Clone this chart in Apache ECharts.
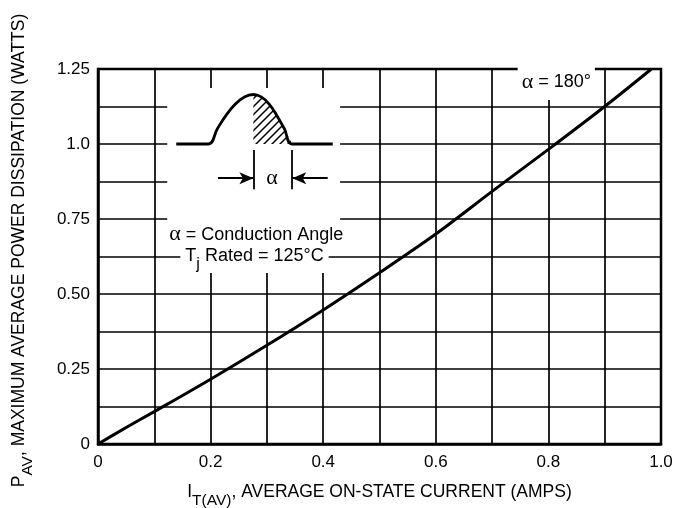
<!DOCTYPE html>
<html><head><meta charset="utf-8">
<script src="https://cdn.jsdelivr.net/npm/echarts@6.0.0/dist/echarts.min.js"></script>
<style>html,body{margin:0;padding:0;background:#fff}#c{width:684px;height:508px}</style>
</head><body><div id="c"></div>
<script>
// Main curve: alpha = 180 deg
const curveX = [0, 0.05, 0.1, 0.2, 0.3, 0.4, 0.5, 0.6, 0.7, 0.8, 0.9, 0.983];
const curveY = [0, 0.055, 0.108, 0.216, 0.329, 0.447, 0.571, 0.700, 0.842, 0.982, 1.125, 1.25];
// tick labels
const xTickLabels = ['0', '0.2', '0.4', '0.6', '0.8', '1.0'];
const yTickLabels = ['0', '0.25', '0.50', '0.75', '1.0', '1.25'];
// inset waveform (data units)
const waveX = [0.139, 0.196, 0.212, 0.228, 0.244, 0.260, 0.276, 0.290, 0.304, 0.317, 0.331, 0.345, 0.417];
const waveY = [1.0, 1.0, 1.051, 1.097, 1.133, 1.157, 1.165, 1.157, 1.133, 1.097, 1.051, 1.0, 1.0];
const hatchX = [0.276, 0.276, 0.290, 0.304, 0.317, 0.331, 0.345];
const hatchY = [1.0, 1.165, 1.157, 1.133, 1.097, 1.051, 1.0];
const maskX = [0.123, 0.430];
const maskY = [0.657, 1.187];
const dimLineX = [0.276, 0.345];
const dimLineY = [0.849, 0.980];
const arrowY = 0.886;
const arrowLeft = [0.213, 0.276];
const arrowRight = [0.408, 0.345];

const SANS = "'Liberation Sans', Arial, sans-serif";
const SERIF = "'Liberation Serif', 'DejaVu Serif', serif";

function pattern() {
  const n = 8;
  const c = document.createElement('canvas');
  c.width = n; c.height = n;
  const g = c.getContext('2d');
  g.fillStyle = '#fff'; g.fillRect(0, 0, n, n);
  g.strokeStyle = '#000'; g.lineWidth = 1.5;
  g.beginPath();
  g.moveTo(-1, n + 1); g.lineTo(n + 1, -1);
  g.moveTo(-n / 2 - 1, n / 2 + 1); g.lineTo(n / 2 + 1, -n / 2 - 1);
  g.moveTo(n / 2 - 1, 1.5 * n + 1); g.lineTo(1.5 * n + 1, n / 2 - 1);
  g.stroke();
  return c;
}

const zip = (a, b) => a.map((v, i) => [v, b[i]]);
const subRich = (main, sub) => ({
  m: {fontFamily: SANS, fontSize: main, color: '#000', lineHeight: 20, verticalAlign: 'top'},
  s: {fontFamily: SANS, fontSize: sub, color: '#000', lineHeight: 26, verticalAlign: 'bottom'}
});

const chart = echarts.init(document.getElementById('c'), null, {renderer: 'canvas'});
chart.setOption({
  animation: false,
  backgroundColor: '#fff',
  grid: {left: 98, right: 23, top: 69, bottom: 64, show: true, borderColor: '#000', borderWidth: 2.5, outerBoundsMode: 'none'},
  xAxis: {
    type: 'value', min: 0, max: 1.0, interval: 0.1,
    axisLine: {show: true, onZero: false, lineStyle: {color: '#000', width: 2.5}},
    axisTick: {show: false},
    splitLine: {show: true, lineStyle: {color: '#000', width: 1.7}},
    axisLabel: {
      color: '#000', fontFamily: SANS, fontSize: 17, margin: 10,
      formatter: v => { const k = Math.round(v * 10); return k % 2 ? '' : xTickLabels[k / 2]; }
    },
    name: '{m|I}{s|T(AV)}{m|, AVERAGE ON-STATE CURRENT (AMPS)}',
    nameLocation: 'middle', nameGap: 39,
    nameTextStyle: {color: '#000', fontFamily: SANS, fontSize: 17.5, rich: subRich(17.5, 15.5)}
  },
  yAxis: {
    type: 'value', min: 0, max: 1.25, interval: 0.125,
    axisLine: {show: true, lineStyle: {color: '#000', width: 2.5}},
    axisTick: {show: false},
    splitLine: {show: true, lineStyle: {color: '#000', width: 1.7}},
    axisLabel: {
      color: '#000', fontFamily: SANS, fontSize: 17, margin: 8,
      formatter: v => { const k = Math.round(v / 0.125); return k % 2 ? '' : yTickLabels[k / 2]; }
    },
    name: '{m|P}{s|AV}{m|, MAXIMUM AVERAGE POWER DISSIPATION (WATTS)}',
    nameLocation: 'middle', nameGap: 62, nameRotate: 90,
    nameTextStyle: {color: '#000', fontFamily: SANS, fontSize: 17.5, padding: [0, 0, 0, 12], rich: subRich(17.5, 15.5)}
  },
  series: [
    {
      type: 'line', data: [], silent: true,
      markArea: {
        silent: true,
        itemStyle: {color: '#fff', opacity: 1},
        data: [[{coord: [maskX[0], maskY[0]]}, {coord: [maskX[1], maskY[1]]}]]
      }
    },
    {
      type: 'line', data: zip(curveX, curveY), showSymbol: false, smooth: 0.3, silent: true,
      lineStyle: {color: '#000', width: 3}, z: 3
    },
    {
      type: 'line', data: zip(hatchX, hatchY), showSymbol: false, smooth: false, silent: true,
      lineStyle: {width: 0, color: '#000'},
      areaStyle: {origin: 1.0, color: {image: pattern(), repeat: 'repeat'}, opacity: 1},
      z: 4
    },
    {
      type: 'line', data: zip(waveX, waveY), showSymbol: false, smooth: 0.4, silent: true,
      lineStyle: {color: '#000', width: 2.8}, z: 5
    },
    {
      type: 'line', data: [], silent: true,
      markLine: {
        silent: true, animation: false,
        symbol: ['none', 'arrow'], symbolSize: [9, 14],
        label: {show: false},
        lineStyle: {color: '#000', width: 1.8, type: 'solid'},
        data: [
          [{coord: [arrowLeft[0], arrowY]}, {coord: [arrowLeft[1], arrowY]}],
          [{coord: [arrowRight[0], arrowY]}, {coord: [arrowRight[1], arrowY]}]
        ]
      }
    },
    {
      type: 'line', data: [], silent: true,
      markLine: {
        silent: true, animation: false,
        symbol: ['none', 'none'],
        label: {show: false},
        lineStyle: {color: '#000', width: 1.8, type: 'solid'},
        data: dimLineX.map(x => [{coord: [x, dimLineY[0]]}, {coord: [x, dimLineY[1]]}])
      }
    },
    {
      type: 'line', data: [], silent: true,
      markPoint: {
        silent: true, symbol: 'circle', symbolSize: 0, animation: false,
        label: {show: true, position: 'inside', color: '#000', fontFamily: SANS, fontSize: 18},
        data: [
          {coord: [0.309, 0.887], value: 0, label: {formatter: '{g|α}',
            rich: {g: {fontFamily: SERIF, fontSize: 22, color: '#000'}}}},
          {coord: [0.281, 0.698], value: 0, label: {formatter: '{g|α}{m| = Conduction Angle}',
            rich: {g: {fontFamily: SERIF, fontSize: 22, color: '#000'},
                   m: {fontFamily: SANS, fontSize: 18, color: '#000'}}}},
          {coord: [0.278, 0.615], value: 0, label: {formatter: '{m|T}{s|j}{m| Rated = 125°C}',
            backgroundColor: '#fff', padding: [1, 5, 0, 5],
            rich: subRich(18, 16)}},
          {coord: [0.814, 1.207], value: 0, label: {formatter: '{g|α}{m| = 180°}',
            backgroundColor: '#fff', padding: [7, 4, 7, 4],
            rich: {g: {fontFamily: SERIF, fontSize: 22, color: '#000'},
                   m: {fontFamily: SANS, fontSize: 18, color: '#000'}}}}
        ]
      }
    }
  ]
});
</script>
</body></html>
